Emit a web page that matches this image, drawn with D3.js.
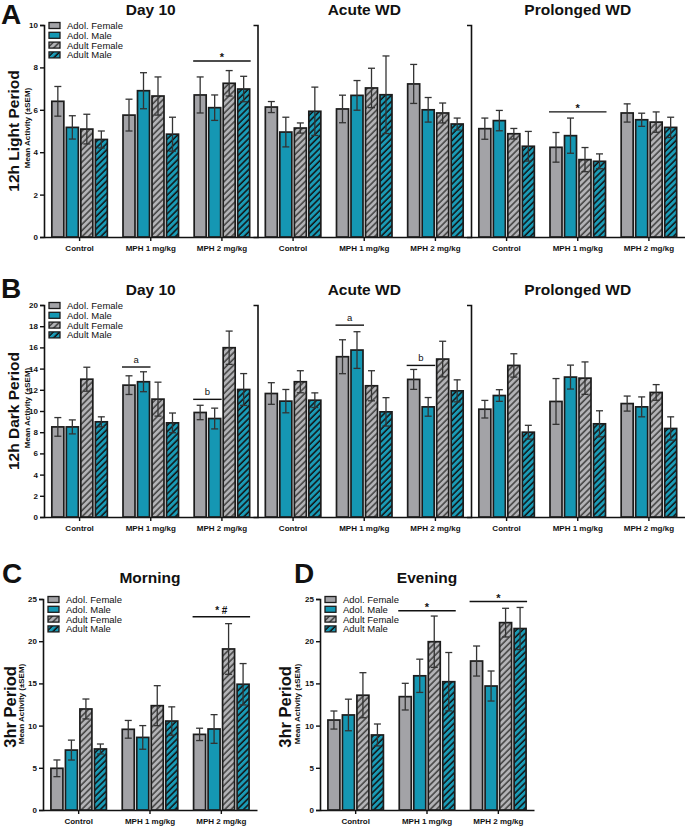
<!DOCTYPE html>
<html>
<head>
<meta charset="utf-8">
<script src="https://cdn.jsdelivr.net/npm/d3@7"></script>
<style>
  body { margin: 0; background: #fff; }
  svg { display: block; font-family: "Liberation Sans", Arial, sans-serif; }
</style>
</head>
<body>
<svg id="chart" width="685" height="826"></svg>
<script>
// categories
const groups = ["Adol. Female", "Adol. Male", "Adult Female", "Adult Male"];
const doses = ["Control", "MPH 1 mg/kg", "MPH 2 mg/kg"];
const phases = ["Day 10", "Acute WD", "Prolonged WD"];

// 12h light period: rows = doses, cols = groups
const lightDay10 = [[6.4, 5.17, 5.09, 4.6], [5.75, 6.9, 6.65, 4.85], [6.7, 6.1, 7.25, 6.98]];
const lightDay10Sem = [[0.7, 0.55, 0.7, 0.4], [0.75, 0.85, 0.9, 0.8], [0.85, 0.6, 0.6, 0.6]];
const lightAcute = [[6.13, 4.95, 5.14, 5.93], [6.04, 6.68, 7.03, 6.71], [7.22, 6.0, 5.85, 5.33]];
const lightAcuteSem = [[0.26, 0.7, 0.24, 1.14], [0.65, 0.7, 0.93, 1.83], [0.92, 0.58, 0.47, 0.28]];
const lightProlonged = [[5.11, 5.49, 4.87, 4.28], [4.23, 4.78, 3.65, 3.57], [5.85, 5.53, 5.42, 5.17]];
const lightProlongedSem = [[0.5, 0.48, 0.25, 0.7], [0.7, 0.83, 0.57, 0.35], [0.43, 0.31, 0.48, 0.48]];

// 12h dark period
const darkDay10 = [[8.5, 8.5, 13.0, 8.98], [12.44, 12.76, 11.12, 8.88], [9.86, 9.29, 15.97, 12.03]];
const darkDay10Sem = [[0.88, 0.66, 1.13, 0.47], [0.88, 0.94, 1.6, 0.93], [0.68, 0.98, 1.57, 1.5]];
const darkAcute = [[11.65, 10.93, 12.76, 11.02], [15.12, 15.75, 12.38, 9.92], [12.98, 10.39, 14.9, 11.9]];
const darkAcuteSem = [[1.02, 1.1, 1.04, 0.69], [1.6, 1.73, 1.42, 1.34], [0.94, 0.88, 1.68, 1.04]];
const darkProlonged = [[10.17, 11.46, 14.3, 8.0], [10.9, 13.2, 13.1, 8.79], [10.7, 10.39, 11.75, 8.35]];
const darkProlongedSem = [[0.83, 0.55, 1.1, 0.65], [2.16, 1.13, 1.53, 1.23], [0.71, 0.94, 0.74, 1.1]];

// 3hr periods
const morning = [[4.94, 7.1, 11.97, 7.23], [9.56, 8.6, 12.36, 10.54], [8.96, 9.6, 19.08, 14.9]];
const morningSem = [[0.99, 1.18, 1.18, 0.59], [1.05, 1.4, 2.37, 1.68], [0.73, 1.7, 3.0, 2.45]];
const evening = [[10.66, 11.26, 13.6, 8.89], [13.43, 15.9, 19.94, 15.2], [17.65, 14.69, 22.2, 21.5]];
const eveningSem = [[1.07, 1.87, 2.67, 1.3], [1.58, 1.97, 3.04, 3.46], [1.78, 1.78, 1.7, 2.5]];

const svg = d3.select("#chart");
const defs = svg.append("defs");

// diagonal hatching for the adult groups
function hatch(id, bg, line, w) {
  const p = defs.append("pattern")
    .attr("id", id)
    .attr("patternUnits", "userSpaceOnUse")
    .attr("width", 4.4).attr("height", 4.4)
    .attr("patternTransform", "rotate(45)");
  p.append("rect").attr("width", 4.4).attr("height", 4.4).attr("fill", bg);
  p.append("line")
    .attr("x1", 1).attr("x2", 1).attr("y1", 0).attr("y2", 4.4)
    .attr("stroke", line).attr("stroke-width", w);
}
hatch("hatchGray", "#b4b4b7", "#444", 1.6);
hatch("hatchTeal", "#1a9bb6", "#111", 1.5);

const fills = ["#a3a3a7", "#1597b3", "url(#hatchGray)", "url(#hatchTeal)"];

function panel(cfg) {
  const g = svg.append("g");
  const y = d3.scaleLinear().domain([0, cfg.yMax]).range([cfg.bottom, cfg.top]);
  const innerW = 55.5;
  const x1 = d3.scaleBand().domain(groups).range([0, innerW]).paddingInner(0.172);

  cfg.sets.forEach((set, s) => {
    const left = cfg.left + s * cfg.subW;
    const x0 = d3.scaleBand().domain(doses).range([left, left + cfg.subW]);
    const off = (x0.bandwidth() - innerW) / 2;

    // y axis (ticks only on first sub-panel)
    const yAxis = d3.axisLeft(y).tickSizeOuter(0).tickSize(4).tickPadding(2);
    if (s === 0) yAxis.tickValues(d3.range(0, cfg.yMax + 0.01, cfg.yStep)).tickFormat(d3.format("d"));
    else yAxis.tickValues([]);
    const ya = g.append("g").attr("transform", `translate(${left},0)`).call(yAxis);

    // x axis
    const xa = g.append("g").attr("transform", `translate(0,${cfg.bottom})`)
      .call(d3.axisBottom(x0).tickSize(4).tickSizeOuter(0).tickPadding(4));

    [ya, xa].forEach(a => {
      a.select(".domain").attr("stroke", "#111").attr("stroke-width", 1.6);
      a.selectAll(".tick line").attr("stroke", "#111").attr("stroke-width", 1.4);
      a.selectAll(".tick text").attr("fill", "#111").attr("font-size", 8)
        .attr("font-weight", "bold").attr("font-family", "Liberation Sans, Arial, sans-serif");
    });

    // title
    g.append("text")
      .attr("x", left + cfg.subW / 2).attr("y", cfg.titleY)
      .attr("text-anchor", "middle").attr("font-size", 15.5).attr("font-weight", "bold")
      .attr("fill", "#111").text(cfg.titles[s]);

    // bars + error bars
    doses.forEach((d, i) => {
      groups.forEach((grp, j) => {
        const m = set.mean[i][j], e = set.sem[i][j];
        const bx = x0(d) + off + x1(grp);
        const bw = x1.bandwidth();
        g.append("rect")
          .attr("x", bx).attr("y", y(m))
          .attr("width", bw).attr("height", y(0) - y(m))
          .attr("fill", fills[j]).attr("stroke", "#1c1c1c").attr("stroke-width", 1.7);
        const cx = bx + bw / 2;
        const eb = g.append("g").attr("stroke", "#333").attr("stroke-width", 1.3);
        eb.append("line").attr("x1", cx).attr("x2", cx).attr("y1", y(m + e)).attr("y2", y(m - e));
        eb.append("line").attr("x1", cx - 3.5).attr("x2", cx + 3.5).attr("y1", y(m + e)).attr("y2", y(m + e));
        eb.append("line").attr("x1", cx - 3.5).attr("x2", cx + 3.5).attr("y1", y(m - e)).attr("y2", y(m - e));
      });
    });

    // significance marks
    (cfg.notes || []).filter(n => n.sub === s).forEach(n => {
      const xa0 = x0(n.dose) + off + x1(groups[n.from]) - 1;
      const xa1 = x0(n.dose) + off + x1(groups[n.to]) + x1.bandwidth() + 1;
      const ly = y(n.level);
      g.append("line").attr("x1", xa0).attr("x2", xa1).attr("y1", ly).attr("y2", ly)
        .attr("stroke", "#111").attr("stroke-width", 1.4);
      g.append("text").attr("x", (xa0 + xa1) / 2).attr("y", ly + n.dy)
        .attr("text-anchor", "middle").attr("font-size", n.size)
        .attr("font-weight", n.bold ? "bold" : "normal").attr("fill", "#111").text(n.text);
    });
  });

  // legend
  const lg = g.append("g").attr("transform", `translate(${cfg.left + 5},${cfg.top + 0.5})`);
  groups.forEach((grp, j) => {
    const row = lg.append("g").attr("transform", `translate(0,${j * 9.8})`);
    row.append("rect").attr("x", 0).attr("y", -3).attr("width", 11).attr("height", 6)
      .attr("fill", fills[j]).attr("stroke", "#1c1c1c").attr("stroke-width", 1.3);
    row.append("text").attr("x", 18).attr("y", 3.5).attr("font-size", 9.5)
      .attr("fill", "#111").text(grp);
  });

  // panel letter
  g.append("text").attr("x", cfg.letterX).attr("y", cfg.letterY)
    .attr("font-size", 28).attr("font-weight", "bold").attr("fill", "#111").text(cfg.letter);

  // y labels
  const cy = cfg.labelY;
  g.append("text").attr("transform", `translate(${cfg.bigX},${cy}) rotate(-90)`)
    .attr("text-anchor", "middle").attr("font-size", cfg.bigSize).attr("font-weight", "bold")
    .attr("fill", "#111").text(cfg.label);
  g.append("text").attr("transform", `translate(${cfg.smallX},${cy - 3}) rotate(-90)`)
    .attr("text-anchor", "middle").attr("font-size", 8).attr("font-weight", "bold")
    .attr("fill", "#111").text("Mean Activity (\u00b1SEM)");
}

panel({
  letter: "A", letterX: 1, letterY: 24,
  left: 44, subW: 213.5, top: 25, bottom: 237, yMax: 10, yStep: 2,
  titles: phases, titleY: 15,
  label: "12h Light Period", labelY: 131, bigX: 19, smallX: 29.5, bigSize: 15.5,
  sets: [
    { mean: lightDay10, sem: lightDay10Sem },
    { mean: lightAcute, sem: lightAcuteSem },
    { mean: lightProlonged, sem: lightProlongedSem }
  ],
  notes: [
    { sub: 0, dose: "MPH 2 mg/kg", from: 0, to: 3, level: 8.3, text: "*", dy: 0, size: 11, bold: true },
    { sub: 2, dose: "MPH 1 mg/kg", from: 0, to: 3, level: 5.9, text: "*", dy: 0, size: 11, bold: true }
  ]
});

panel({
  letter: "B", letterX: 1, letterY: 298,
  left: 44, subW: 213.5, top: 305, bottom: 517, yMax: 20, yStep: 2,
  titles: phases, titleY: 295,
  label: "12h Dark Period", labelY: 411, bigX: 19, smallX: 29.5, bigSize: 15.5,
  sets: [
    { mean: darkDay10, sem: darkDay10Sem },
    { mean: darkAcute, sem: darkAcuteSem },
    { mean: darkProlonged, sem: darkProlongedSem }
  ],
  notes: [
    { sub: 0, dose: "MPH 1 mg/kg", from: 0, to: 1, level: 14.15, text: "a", dy: -4, size: 9.5 },
    { sub: 0, dose: "MPH 2 mg/kg", from: 0, to: 1, level: 11.1, text: "b", dy: -4, size: 9.5 },
    { sub: 1, dose: "MPH 1 mg/kg", from: 0, to: 1, level: 18.1, text: "a", dy: -4, size: 9.5 },
    { sub: 1, dose: "MPH 2 mg/kg", from: 0, to: 1, level: 14.3, text: "b", dy: -4, size: 9.5 }
  ]
});

panel({
  letter: "C", letterX: 2, letterY: 583,
  left: 43, subW: 214, top: 599, bottom: 810, yMax: 25, yStep: 5,
  titles: ["Morning"], titleY: 583,
  label: "3hr Period", labelY: 707, bigX: 16, smallX: 24, bigSize: 16.5,
  sets: [{ mean: morning, sem: morningSem }],
  notes: [
    { sub: 0, dose: "MPH 2 mg/kg", from: 0, to: 3, level: 22.9, text: "* #", dy: -3, size: 10, bold: true }
  ]
});

panel({
  letter: "D", letterX: 294, letterY: 583,
  left: 320, subW: 214, top: 599, bottom: 810, yMax: 25, yStep: 5,
  titles: ["Evening"], titleY: 583,
  label: "3hr Period", labelY: 707, bigX: 291, smallX: 300, bigSize: 16.5,
  sets: [{ mean: evening, sem: eveningSem }],
  notes: [
    { sub: 0, dose: "MPH 1 mg/kg", from: 0, to: 3, level: 23.6, text: "*", dy: 0, size: 11, bold: true },
    { sub: 0, dose: "MPH 2 mg/kg", from: 0, to: 3, level: 24.7, text: "*", dy: 0, size: 11, bold: true }
  ]
});
</script>
</body>
</html>
